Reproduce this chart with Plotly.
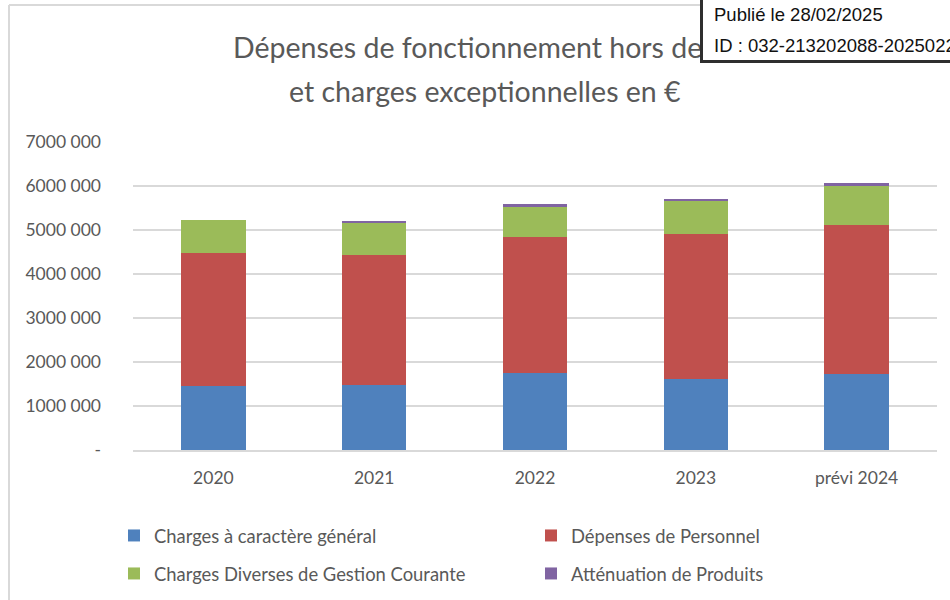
import plotly.graph_objects as go

categories = ["2020", "2021", "2022", "2023", "prévi 2024"]
charges_generales = [1460000, 1470000, 1750000, 1610000, 1720000]
personnel = [3025000, 2960000, 3095000, 3290000, 3400000]
diverses = [735000, 730000, 685000, 770000, 900000]
attenuation = [0, 23000, 50000, 38000, 45000]

series_names = ["Charges à caractère général", "Dépenses de Personnel",
                "Charges Diverses de Gestion Courante", "Atténuation de Produits"]
series_colors = ["#4F81BD", "#C0504D", "#9BBB59", "#8064A2"]
series_legend = ["legend", "legend", "legend2", "legend2"]

y_tickvals = [0, 1000000, 2000000, 3000000, 4000000, 5000000, 6000000, 7000000]
y_ticktext = ["-", "1000 000", "2000 000", "3000 000", "4000 000", "5000 000", "6000 000", "7000 000"]

title_line1 = "Dépenses de fonctionnement hors dette"
title_line2 = "et charges exceptionnelles en €"
stamp_line1 = "Publié le 28/02/2025"
stamp_line2 = "ID : 032-213202088-20250227"

FONT = "Lato"
GREY = "#595959"

W, H = 950, 600
ML, MR, MT, MB = 133, 13, 142, 150
PW = W - ML - MR
PH = H - MT - MB


def px_x(px):
    return (px - ML) / PW


def px_y(py):
    return (H - MB - py) / PH


fig = go.Figure()
for vals, name, col, lg in zip([charges_generales, personnel, diverses, attenuation],
                               series_names, series_colors, series_legend):
    fig.add_trace(go.Bar(x=categories, y=vals, name=name, marker_color=col,
                         marker_line_width=0, legend=lg))

fig.update_layout(
    width=W, height=H,
    margin=dict(l=ML, r=MR, t=MT, b=MB, autoexpand=False),
    barmode="stack", bargap=0.6,
    plot_bgcolor="white", paper_bgcolor="white",
    font=dict(family=FONT, color=GREY),
    xaxis=dict(showgrid=False, showline=True, linecolor="#D9D9D9", linewidth=1.5,
               ticks="", tickfont=dict(size=17.5, color=GREY), ticklabelstandoff=11),
    yaxis=dict(range=[0, 7000000], tickvals=y_tickvals, ticktext=y_ticktext,
               showgrid=True, gridcolor="#D9D9D9", gridwidth=1.5, zeroline=False,
               showline=False, ticks="", tickfont=dict(size=17.5, color=GREY),
               ticklabelstandoff=31),
    legend=dict(orientation="h", x=px_x(114), y=px_y(517), xanchor="left", yanchor="top",
                entrywidth=372, font=dict(size=18.4, color=GREY), traceorder="normal",
                bgcolor="rgba(0,0,0,0)"),
    legend2=dict(orientation="h", x=px_x(114), y=px_y(555), xanchor="left", yanchor="top",
                 entrywidth=372, font=dict(size=18.4, color=GREY), traceorder="normal",
                 bgcolor="rgba(0,0,0,0)"),
    showlegend=True,
)

# outer chart frame (light grey): left and top edges visible
fig.add_shape(type="line", xref="paper", yref="paper",
              x0=px_x(9), x1=px_x(9), y0=px_y(5), y1=px_y(620),
              line=dict(color="#D9D9D9", width=2), layer="below")
fig.add_shape(type="line", xref="paper", yref="paper",
              x0=px_x(9), x1=px_x(960), y0=px_y(5), y1=px_y(5),
              line=dict(color="#D9D9D9", width=2), layer="below")

# title as annotations
fig.add_annotation(text=title_line1, xref="paper", yref="paper", x=px_x(485), y=px_y(47),
                   xanchor="center", yanchor="middle", showarrow=False,
                   font=dict(family=FONT, size=28.5, color=GREY))
fig.add_annotation(text=title_line2, xref="paper", yref="paper", x=px_x(485), y=px_y(91),
                   xanchor="center", yanchor="middle", showarrow=False,
                   font=dict(family=FONT, size=28.5, color=GREY))

# publication stamp box (covers end of title)
fig.add_annotation(text=" ", xref="paper", yref="paper", x=px_x(700), y=px_y(63),
                   xanchor="left", yanchor="bottom", showarrow=False,
                   width=270, height=90, borderpad=0, bgcolor="white",
                   bordercolor="#2E2E2E", borderwidth=3)
fig.add_annotation(text=stamp_line1, xref="paper", yref="paper", x=px_x(712), y=px_y(14),
                   xanchor="left", yanchor="middle", showarrow=False,
                   font=dict(family="Liberation Sans", size=18.5, color="#111111"))
fig.add_annotation(text=stamp_line2, xref="paper", yref="paper", x=px_x(712), y=px_y(46),
                   xanchor="left", yanchor="middle", showarrow=False,
                   font=dict(family="Liberation Sans", size=18.5, color="#111111"))

fig.write_html("out.html", config={"displayModeBar": False},
               post_script="document.body.style.margin='0';")
